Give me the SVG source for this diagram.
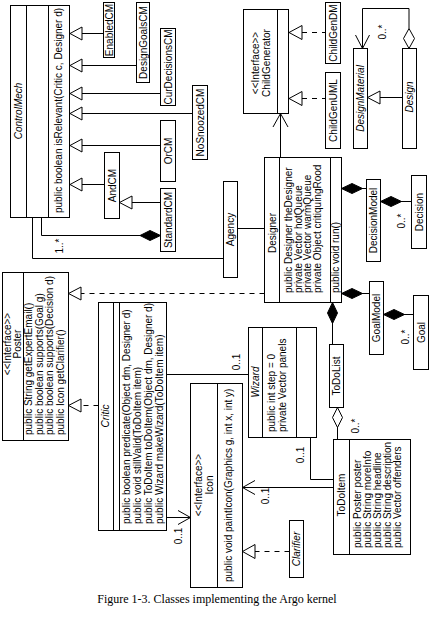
<svg xmlns="http://www.w3.org/2000/svg" width="433" height="620" viewBox="0 0 433 620">
<style>
rect.n { fill: #fff; stroke: #000; stroke-width: 1; }
.sep, .c { fill: none; stroke: #000; stroke-width: 1; }
.d { stroke-dasharray: 5,5; }
.tri, .hd { fill: #fff; stroke: #000; stroke-width: 1; }
.fd { fill: #000; stroke: #000; stroke-width: 1; }
text { font-family: "Liberation Sans", Arial, sans-serif; font-size: 10px; fill: #000; }
.m { text-anchor: middle; }
.i { font-style: italic; }
.cap { font-family: "Liberation Serif", "Times New Roman", serif; font-size: 12px; text-anchor: middle; }
</style>
<rect width="433" height="620" fill="#fff"/>

<g id="connectors">
  <!-- generalizations to ControlMech -->
  <line class="c" x1="82" y1="33.5" x2="104" y2="33.5"/>
  <polygon class="tri" points="70,33.5 82,27 82,40"/>
  <line class="c" x1="82" y1="65.5" x2="136.5" y2="65.5"/>
  <polygon class="tri" points="70,65.5 82,59 82,72"/>
  <line class="c" x1="82" y1="93.5" x2="160.5" y2="93.5"/>
  <polygon class="tri" points="70,93.5 82,87 82,100"/>
  <line class="c" x1="82" y1="113.5" x2="192.5" y2="113.5"/>
  <polygon class="tri" points="70,113.5 82,107 82,120"/>
  <line class="c" x1="82" y1="145.5" x2="160.5" y2="145.5"/>
  <polygon class="tri" points="70,145.5 82,139 82,152"/>
  <line class="c" x1="82" y1="184.5" x2="104.5" y2="184.5"/>
  <polygon class="tri" points="70,184.5 82,178 82,191"/>
  <line class="c" x1="132" y1="202.5" x2="160.5" y2="202.5"/>
  <polygon class="tri" points="119.5,202.5 132,196 132,209"/>
  <!-- StandardCM composition -->
  <polyline class="c" points="41.5,217.5 41.5,235.5 140,235.5"/>
  <polygon class="fd" points="140,235.5 150,230.5 160.5,235.5 150,240.5"/>
  <!-- ControlMech - Agency -->
  <polyline class="c" points="32.5,217.5 32.5,258.5 223.5,258.5"/>
  <text transform="translate(62.5,246) rotate(-90)" class="m">1..*</text>
  <!-- Agency - Designer -->
  <line class="c" x1="237.5" y1="228.5" x2="264.5" y2="228.5"/>
  <!-- Designer - ChildGenerator -->
  <line class="c" x1="280.5" y1="157.5" x2="280.5" y2="113.5"/>
  <polyline class="c" points="273,127 280.5,113.5 288,127"/>
  <!-- ChildGen realizations -->
  <line class="c d" x1="302" y1="32.5" x2="325.5" y2="32.5"/>
  <polygon class="tri" points="289,32.5 302,25.5 302,39.5"/>
  <line class="c d" x1="302" y1="98.5" x2="325.5" y2="98.5"/>
  <polygon class="tri" points="289,98.5 302,91.5 302,105.5"/>
  <!-- Design - DesignMaterial -->
  <line class="c" x1="380" y1="97.5" x2="402.5" y2="97.5"/>
  <polygon class="tri" points="367.5,97.5 380,91 380,104"/>
  <polyline class="c" points="409,28.5 409,8.5 362.5,8.5 362.5,48.5"/>
  <polyline class="c" points="355.5,35 362.5,48.5 369.5,35"/>
  <polygon class="hd" points="409,48.5 403.5,38.5 409,28.5 414.5,38.5"/>
  <text transform="translate(386,32) rotate(-90)" class="m">0..*</text>
  <!-- Designer - DecisionModel -->
  <line class="c" x1="341.5" y1="188.5" x2="366.5" y2="188.5"/>
  <polygon class="fd" points="341.5,188.5 352,183.5 362.5,188.5 352,193.5"/>
  <!-- DecisionModel - Decision -->
  <line class="c" x1="380.5" y1="201.5" x2="411.5" y2="201.5"/>
  <polygon class="fd" points="380.5,201.5 391,196.5 401.5,201.5 391,206.5"/>
  <text transform="translate(405,221) rotate(-90)" class="m">0..*</text>
  <!-- Designer - GoalModel -->
  <line class="c" x1="341.5" y1="293.5" x2="369.5" y2="293.5"/>
  <polygon class="fd" points="341.5,293.5 352,288.5 362.5,293.5 352,298.5"/>
  <!-- GoalModel - Goal -->
  <line class="c" x1="383.5" y1="314.5" x2="413.5" y2="314.5"/>
  <polygon class="fd" points="383.5,314.5 394,309.5 404.5,314.5 394,319.5"/>
  <text transform="translate(409,337) rotate(-90)" class="m">0..*</text>
  <!-- Designer - ToDoList -->
  <line class="c" x1="332.5" y1="302.5" x2="332.5" y2="344.5"/>
  <polygon class="fd" points="332.5,302.5 337.5,313 332.5,323.5 327.5,313"/>
  <!-- ToDoList - ToDoItem -->
  <line class="c" x1="337.5" y1="407.5" x2="337.5" y2="439.5"/>
  <polygon class="hd" points="337.5,407.5 342.5,417.5 337.5,427.5 332.5,417.5"/>
  <text transform="translate(359,426) rotate(-90)" class="m">0..*</text>
  <!-- Designer / Critic realize Poster -->
  <line class="c d" x1="264.5" y1="293.5" x2="81" y2="293.5"/>
  <polygon class="tri" points="68.5,293.5 81,287 81,300"/>
  <line class="c d" x1="98.5" y1="405.5" x2="81" y2="405.5"/>
  <polygon class="tri" points="68.5,405.5 81,399 81,412"/>
  <!-- Critic - Wizard -->
  <line class="c" x1="166.5" y1="374.5" x2="248.5" y2="374.5"/>
  <text transform="translate(240,362) rotate(-90)" class="m">0..1</text>
  <!-- Critic - Icon -->
  <line class="c" x1="166.5" y1="517.5" x2="190.5" y2="517.5"/>
  <polyline class="c" points="178,510.5 190.5,517.5 178,524.5"/>
  <text transform="translate(182,536) rotate(-90)" class="m">0..1</text>
  <!-- Wizard - ToDoItem -->
  <polyline class="c" points="310.5,437.5 310.5,479.5 333.5,479.5"/>
  <text transform="translate(303.5,455) rotate(-90)" class="m">0..1</text>
  <!-- ToDoItem - Icon -->
  <line class="c" x1="333.5" y1="487.5" x2="242.5" y2="487.5"/>
  <polyline class="c" points="255,480.5 242.5,487.5 255,494.5"/>
  <text transform="translate(269,496) rotate(-90)" class="m">0..1</text>
  <!-- Clarifier realizes Icon -->
  <line class="c d" x1="289.5" y1="551.5" x2="255" y2="551.5"/>
  <polygon class="tri" points="242.5,551.5 255,544.5 255,558.5"/>
</g>

<g id="ControlMech">
  <rect class="n" x="10.5" y="5.5" width="59" height="212"/>
  <line class="sep" x1="26.5" y1="5.5" x2="26.5" y2="217.5"/>
  <line class="sep" x1="48.5" y1="5.5" x2="48.5" y2="217.5"/>
  <text transform="translate(22,111) rotate(-90)" class="m i">ControlMech</text>
  <text transform="translate(62,213) rotate(-90)">public boolean isRelevant(Critic c, Designer d)</text>
</g>
<g id="EnabledCM">
  <rect class="n" x="103.5" y="2.5" width="11" height="55"/>
  <text transform="translate(112.5,30) rotate(-90)" class="m">EnabledCM</text>
</g>
<g id="DesignGoalsCM">
  <rect class="n" x="136.5" y="2.5" width="13" height="80"/>
  <text transform="translate(146.5,42.5) rotate(-90)" class="m">DesignGoalsCM</text>
</g>
<g id="CurDecisionsCM">
  <rect class="n" x="160.5" y="28.5" width="15" height="77"/>
  <text transform="translate(171.5,67) rotate(-90)" class="m">CurDecisionsCM</text>
</g>
<g id="NoSnoozedCM">
  <rect class="n" x="192.5" y="85.5" width="15" height="74"/>
  <text transform="translate(203.5,122.5) rotate(-90)" class="m">NoSnoozedCM</text>
</g>
<g id="OrCM">
  <rect class="n" x="160.5" y="120.5" width="15" height="61"/>
  <text transform="translate(171.5,151) rotate(-90)" class="m">OrCM</text>
</g>
<g id="AndCM">
  <rect class="n" x="104.5" y="152.5" width="15" height="66"/>
  <text transform="translate(115.5,185.5) rotate(-90)" class="m">AndCM</text>
</g>
<g id="StandardCM">
  <rect class="n" x="160.5" y="188.5" width="15" height="63"/>
  <text transform="translate(171.5,220) rotate(-90)" class="m">StandardCM</text>
</g>
<g id="Agency">
  <rect class="n" x="223.5" y="181.5" width="14" height="96"/>
  <text transform="translate(234,229.5) rotate(-90)" class="m">Agency</text>
</g>
<g id="ChildGenerator">
  <rect class="n" x="243.5" y="9.5" width="45" height="104"/>
  <line class="sep" x1="277.5" y1="9.5" x2="277.5" y2="113.5"/>
  <text transform="translate(258.5,63) rotate(-90)" class="m">&lt;&lt;Interface&gt;&gt;</text>
  <text transform="translate(270,63) rotate(-90)" class="m">ChildGenerator</text>
</g>
<g id="ChildGenDM">
  <rect class="n" x="325.5" y="2.5" width="15" height="61"/>
  <text transform="translate(336.5,33) rotate(-90)" class="m">ChildGenDM</text>
</g>
<g id="ChildGenUML">
  <rect class="n" x="325.5" y="72.5" width="15" height="76"/>
  <text transform="translate(336.5,110.5) rotate(-90)" class="m">ChildGenUML</text>
</g>
<g id="DesignMaterial">
  <rect class="n" x="353.5" y="48.5" width="14" height="100"/>
  <text transform="translate(364,98.5) rotate(-90)" class="m i">DesignMaterial</text>
</g>
<g id="Design">
  <rect class="n" x="402.5" y="48.5" width="14" height="100"/>
  <text transform="translate(413,97) rotate(-90)" class="m i">Design</text>
</g>
<g id="Designer">
  <rect class="n" x="264.5" y="157.5" width="77" height="145"/>
  <line class="sep" x1="279.5" y1="157.5" x2="279.5" y2="302.5"/>
  <line class="sep" x1="330.5" y1="157.5" x2="330.5" y2="302.5"/>
  <text transform="translate(275.5,233) rotate(-90)" class="m">Designer</text>
  <text transform="translate(291.5,293) rotate(-90)">public Designer theDesigner</text>
  <text transform="translate(301.5,293) rotate(-90)">private Vector hotQueue</text>
  <text transform="translate(311,293) rotate(-90)">private Vector warmQueue</text>
  <text transform="translate(320.5,293) rotate(-90)">private Object critiquingRood</text>
  <text transform="translate(339,293) rotate(-90)">public void run()</text>
</g>
<g id="DecisionModel">
  <rect class="n" x="366.5" y="179.5" width="14" height="82"/>
  <text transform="translate(377,220.5) rotate(-90)" class="m">DecisionModel</text>
</g>
<g id="Decision">
  <rect class="n" x="411.5" y="175.5" width="15" height="73"/>
  <text transform="translate(422.5,212) rotate(-90)" class="m">Decision</text>
</g>
<g id="GoalModel">
  <rect class="n" x="369.5" y="281.5" width="14" height="73"/>
  <text transform="translate(380,318) rotate(-90)" class="m">GoalModel</text>
</g>
<g id="Goal">
  <rect class="n" x="413.5" y="295.5" width="15" height="74"/>
  <text transform="translate(424.5,332.5) rotate(-90)" class="m">Goal</text>
</g>
<g id="ToDoList">
  <rect class="n" x="329.5" y="344.5" width="14" height="63"/>
  <text transform="translate(340,376) rotate(-90)" class="m">ToDoList</text>
</g>
<g id="ToDoItem">
  <rect class="n" x="333.5" y="439.5" width="77" height="115"/>
  <line class="sep" x1="349.5" y1="439.5" x2="349.5" y2="554.5"/>
  <text transform="translate(345,495) rotate(-90)" class="m">ToDoItem</text>
  <text transform="translate(361,548) rotate(-90)">public Poster poster</text>
  <text transform="translate(371,548) rotate(-90)">public String moreInfo</text>
  <text transform="translate(381,548) rotate(-90)">public String headline</text>
  <text transform="translate(391,548) rotate(-90)">public String description</text>
  <text transform="translate(401,548) rotate(-90)">public Vector offenders</text>
</g>
<g id="Wizard">
  <rect class="n" x="248.5" y="327.5" width="68" height="110"/>
  <line class="sep" x1="262.5" y1="327.5" x2="262.5" y2="437.5"/>
  <line class="sep" x1="296.5" y1="327.5" x2="296.5" y2="437.5"/>
  <text transform="translate(258.5,382) rotate(-90)" class="m i">Wizard</text>
  <text transform="translate(275,432) rotate(-90)">public int step = 0</text>
  <text transform="translate(286,432) rotate(-90)">private Vector panels</text>
</g>
<g id="Critic">
  <rect class="n" x="98.5" y="302.5" width="68" height="228"/>
  <line class="sep" x1="113.5" y1="302.5" x2="113.5" y2="530.5"/>
  <line class="sep" x1="119.5" y1="302.5" x2="119.5" y2="530.5"/>
  <text transform="translate(109,416) rotate(-90)" class="m i">Critic</text>
  <text transform="translate(130,524) rotate(-90)">public boolean predicate(Object dm, Designer d)</text>
  <text transform="translate(141,524) rotate(-90)">public void stillValid(ToDoItem item)</text>
  <text transform="translate(152,524) rotate(-90)">public ToDoItem toDoItem(Object dm, Designer d)</text>
  <text transform="translate(163,524) rotate(-90)">public Wizard makeWizard(ToDoItem item)</text>
</g>
<g id="Icon">
  <rect class="n" x="190.5" y="383.5" width="52" height="204"/>
  <line class="sep" x1="217.5" y1="383.5" x2="217.5" y2="587.5"/>
  <text transform="translate(202,485) rotate(-90)" class="m">&lt;&lt;Interface&gt;&gt;</text>
  <text transform="translate(213,485) rotate(-90)" class="m">Icon</text>
  <text transform="translate(232,582) rotate(-90)">public void paintIcon(Graphics g, int x, int y)</text>
</g>
<g id="Clarifier">
  <rect class="n" x="289.5" y="520.5" width="14" height="57"/>
  <text transform="translate(300,549) rotate(-90)" class="m i">Clarifier</text>
</g>
<g id="Poster">
  <rect class="n" x="2.5" y="272.5" width="66" height="168"/>
  <line class="sep" x1="23.5" y1="272.5" x2="23.5" y2="440.5"/>
  <text transform="translate(11,344) rotate(-90)" class="m">&lt;&lt;Interface&gt;&gt;</text>
  <text transform="translate(21,344) rotate(-90)" class="m">Poster</text>
  <text transform="translate(32,435) rotate(-90)">public String getExpertEmail()</text>
  <text transform="translate(42.5,435) rotate(-90)">public boolean supports(Goal g)</text>
  <text transform="translate(53,435) rotate(-90)">public boolean supports(Decision d)</text>
  <text transform="translate(63.5,435) rotate(-90)">public Icon getClarifier()</text>
</g>

<text class="cap" x="217" y="603">Figure 1-3. Classes implementing the Argo kernel</text>
</svg>
